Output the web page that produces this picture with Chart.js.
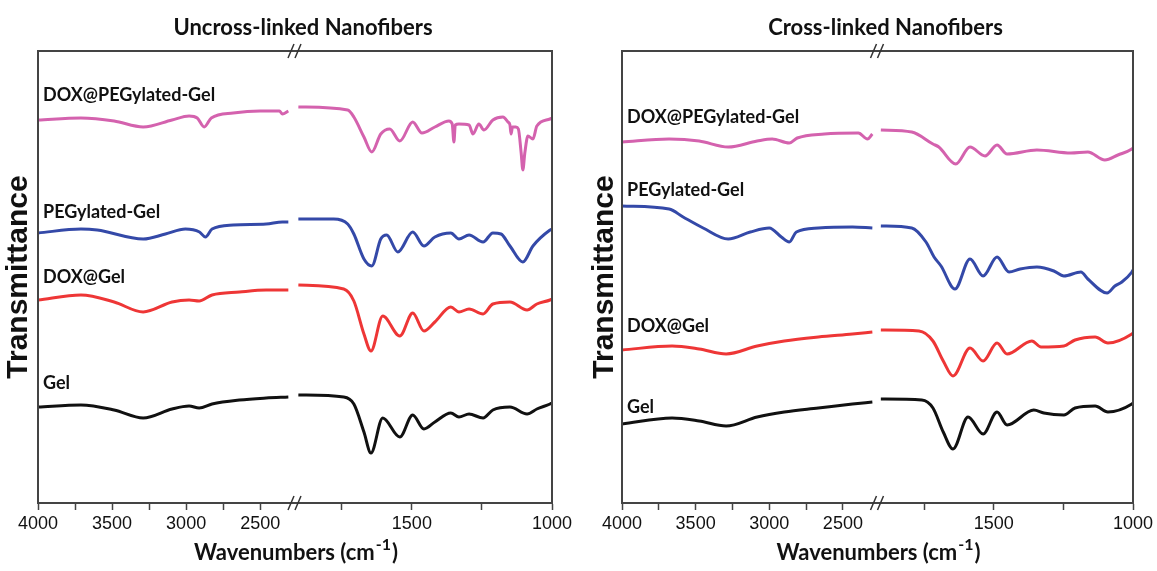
<!DOCTYPE html>
<html>
<head>
<meta charset="utf-8">
<script src="https://cdn.jsdelivr.net/npm/chart.js@4/dist/chart.umd.min.js"></script>
<style>
  html, body { margin: 0; padding: 0; background: #fff; }
  .panel { position: absolute; top: 0; height: 571px; }
  #left { left: 0; width: 580px; }
  #right { left: 584px; width: 573px; }
</style>
</head>
<body>
<div class="panel" id="left"><canvas id="uncross"></canvas></div>
<div class="panel" id="right"><canvas id="cross"></canvas></div>
<script>
// broken wavenumber axis: high part 4000-2265, low part 1917-1000
const TICKS_HIGH = [2500, 2750, 3000, 3250, 3500, 3750, 4000];
const TICKS_LOW = [1000, 1250, 1500, 1750];
const LABELED_TICKS = [1000, 1500, 2500, 3000, 3500, 4000];

const SERIES_NAMES = ['Gel', 'DOX@Gel', 'PEGylated-Gel', 'DOX@PEGylated-Gel'];
const SERIES_COLORS = ['#111111', '#ee3636', '#3449a8', '#d462ae'];
const PANEL_TITLES = ['Uncross-linked Nanofibers', 'Cross-linked Nanofibers'];

// [wavenumber, transmittance (a.u., offset per sample)]
const uncrossGelHigh = [[4000,96],[3710,98],[3486,93],[3290,85],[3095,94],[2980,97],[2912,95],[2825,99],[2640,103],[2460,105],[2310,106]];
const uncrossGelLow = [[1905,108],[1743,106],[1707,99],[1671,71],[1646,50],[1604,85],[1543,66],[1497,88],[1457,74],[1418,81],[1361,90],[1332,86],[1296,89],[1246,85],[1211,93],[1150,96],[1089,89],[1054,94],[1007,99],[1000,100]];
const uncrossDoxGelHigh = [[4000,203],[3710,208],[3486,201],[3290,191],[3095,201],[2980,203],[2912,202],[2825,208],[2640,211],[2460,213],[2310,213]];
const uncrossDoxGelLow = [[1905,218],[1743,214],[1707,202],[1671,169],[1646,152],[1604,187],[1543,167],[1497,190],[1457,172],[1418,181],[1361,196],[1332,191],[1296,194],[1246,189],[1211,199],[1150,201],[1089,193],[1054,199],[1007,203],[1000,204]];
const uncrossPegGelHigh = [[4000,270],[3710,274],[3600,273],[3290,264],[3140,269],[3005,274],[2910,271],[2870,266],[2825,274],[2682,278],[2460,279],[2350,281],[2310,281]];
const uncrossPegGelLow = [[1905,284],[1779,284],[1729,279],[1707,269],[1671,244],[1643,237],[1611,264],[1590,268],[1550,251],[1497,271],[1457,257],[1418,266],[1361,270],[1332,264],[1296,268],[1246,261],[1211,270],[1182,269],[1150,257],[1104,241],[1068,257],[1007,273],[1000,274]];
const uncrossDoxPegGelHigh = [[4000,383],[3710,385],[3486,382],[3290,376],[3095,383],[2980,387],[2925,385],[2878,376],[2830,385],[2682,390],[2500,392],[2370,392],[2350,389],[2310,392]];
const uncrossDoxPegGelLow = [[1905,396],[1729,393],[1707,386],[1671,366],[1643,351],[1611,369],[1579,374],[1543,362],[1497,381],[1464,370],[1418,376],[1368,382],[1356,379],[1350,361],[1345,378],[1332,379],[1296,378],[1282,369],[1261,379],[1243,373],[1211,383],[1175,386],[1157,381],[1150,378],[1146,369],[1141,376],[1129,376],[1120,374],[1110,350],[1104,333],[1097,350],[1086,367],[1068,364],[1054,377],[1007,384],[1000,385]];

const crossGelHigh = [[4000,79],[3660,85],[3476,82],[3293,77],[3082,86],[2898,91],[2667,95],[2435,99],[2300,101]];
const crossGelLow = [[1905,104],[1758,103],[1718,95],[1681,71],[1646,54],[1592,86],[1538,69],[1488,91],[1452,78],[1356,93],[1320,90],[1248,88],[1208,95],[1136,97],[1090,91],[1004,99],[1000,100]];
const crossDoxGelHigh = [[4000,153],[3660,157],[3476,154],[3293,149],[3082,157],[2898,162],[2667,166],[2435,169],[2300,171]];
const crossDoxGelLow = [[1905,173],[1768,172],[1718,162],[1681,142],[1646,127],[1585,155],[1538,142],[1488,160],[1452,149],[1363,162],[1330,156],[1248,157],[1208,163],[1136,166],[1090,160],[1004,169],[1000,170]];
const crossPegGelHigh = [[4000,297],[3680,294],[3585,286],[3449,275],[3279,264],[3129,271],[3000,275],[2918,266],[2864,261],[2816,271],[2667,275],[2435,276],[2300,275]];
const crossPegGelLow = [[1905,277],[1794,275],[1743,261],[1714,246],[1689,237],[1639,214],[1585,244],[1538,227],[1488,246],[1445,231],[1405,234],[1345,236],[1284,232],[1248,227],[1187,231],[1162,224],[1093,210],[1065,217],[1040,221],[1004,231],[1000,233]];
const crossDoxPegGelHigh = [[4000,361],[3680,364],[3476,362],[3279,356],[3082,362],[2980,364],[2864,360],[2810,365],[2626,369],[2395,370],[2333,364],[2300,369]];
const crossDoxPegGelLow = [[1905,373],[1794,371],[1718,359],[1697,356],[1636,339],[1585,356],[1531,347],[1488,358],[1452,349],[1345,353],[1223,350],[1162,351],[1101,343],[1054,348],[1004,354],[1000,355]];

// where the sample names sit, in transmittance units (left edge of plot)
const uncrossLabelT = [120, 226, 291, 408];
const crossLabelT = [96, 177, 313, 386];

const framePlugin = {
  id: 'frame',
  afterDraw(chart, args, opts) {
    const { ctx, chartArea: a, scales } = chart;
    ctx.save();
    ctx.strokeStyle = '#444';
    ctx.lineWidth = 2;
    ctx.strokeRect(a.left, a.top, a.width, a.height);

    // axis break marks
    const bx = scales.xHigh.right;
    ctx.lineWidth = 1.5;
    ctx.strokeStyle = '#333';
    [a.top, a.bottom].forEach(y => {
      ctx.beginPath();
      ctx.moveTo(bx - 7, y + 7); ctx.lineTo(bx - 1, y - 7);
      ctx.moveTo(bx, y + 7); ctx.lineTo(bx + 6, y - 7);
      ctx.stroke();
    });

    // sample names
    ctx.fillStyle = '#111';
    ctx.font = 'bold 18px Lato';
    ctx.textBaseline = 'middle';
    ctx.textAlign = 'left';
    SERIES_NAMES.forEach((name, i) => {
      ctx.fillText(name, a.left + 5, scales.y.getPixelForValue(opts.labelT[i]));
    });

    // panel title
    const cx = (a.left + a.right) / 2;
    ctx.textAlign = 'center';
    ctx.font = 'bold 22px Lato';
    ctx.fillText(opts.title, cx + 8, 28);

    // x axis title with superscript
    const main = 'Wavenumbers (cm', sup = '-1', tail = ')';
    ctx.font = 'bold 22px Lato';
    const wMain = ctx.measureText(main).width, wTail = ctx.measureText(tail).width;
    ctx.font = 'bold 16px Lato';
    const wSup = ctx.measureText(sup).width;
    let x = cx - (wMain + wSup + wTail) / 2;
    ctx.textAlign = 'left';
    ctx.textBaseline = 'alphabetic';
    ctx.font = 'bold 22px Lato';
    ctx.fillText(main, x, 560);
    ctx.font = 'bold 16px Lato';
    ctx.fillText(sup, x + wMain + 1, 550);
    ctx.font = 'bold 22px Lato';
    ctx.fillText(tail, x + wMain + wSup + 2, 560);
    ctx.restore();
  }
};

function xAxis(min, max, ticks) {
  return {
    type: 'linear',
    position: 'bottom',
    stack: 'wn',
    stackWeight: 1,
    reverse: true,
    min: min,
    max: max,
    afterBuildTicks: s => { s.ticks = ticks.map(v => ({ value: v })); },
    afterFit: s => { s.height = 68; },
    border: { display: true, color: '#444', width: 2 },
    grid: { display: true, drawOnChartArea: false, drawTicks: true, tickLength: 7, tickWidth: 1.5, tickColor: '#444' },
    ticks: {
      autoSkip: false, maxRotation: 0, padding: 3, color: '#111',
      font: { family: 'Liberation Sans', size: 18 },
      callback: v => LABELED_TICKS.includes(v) ? String(v) : ''
    }
  };
}

function makePanel(id, title, high, low, labelT, padRight, titlePad) {
  const datasets = [];
  SERIES_NAMES.forEach((name, i) => {
    const base = { label: name, borderColor: SERIES_COLORS[i], borderWidth: 3, pointRadius: 0, cubicInterpolationMode: 'monotone', fill: false };
    datasets.push(Object.assign({}, base, { xAxisID: 'xHigh', data: high[i].map(p => ({ x: p[0], y: p[1] })) }));
    datasets.push(Object.assign({}, base, { xAxisID: 'xLow', data: low[i].map(p => ({ x: p[0], y: p[1] })) }));
  });

  return new Chart(document.getElementById(id), {
    type: 'line',
    data: { datasets },
    options: {
      responsive: true,
      maintainAspectRatio: false,
      animation: false,
      layout: { padding: { top: 51, right: padRight, bottom: 0, left: 0 } },
      plugins: {
        legend: { display: false },
        tooltip: { enabled: false },
        frame: { title: title, labelT: labelT }
      },
      scales: {
        xHigh: xAxis(2265, 4000, TICKS_HIGH),
        xLow: xAxis(1000, 1917, TICKS_LOW),
        y: {
          min: 0, max: 452,
          afterFit: s => { s.width = 38; },
          border: { display: true, color: '#444', width: 2 },
          grid: { display: false },
          ticks: { display: false },
          title: {
            display: true, text: 'Transmittance', color: '#111',
            font: { family: 'Liberation Sans', size: 30, weight: 'bold' },
            padding: { top: titlePad, bottom: 0 }
          }
        }
      }
    },
    plugins: [framePlugin]
  });
}

makePanel('uncross', PANEL_TITLES[0],
  [uncrossGelHigh, uncrossDoxGelHigh, uncrossPegGelHigh, uncrossDoxPegGelHigh],
  [uncrossGelLow, uncrossDoxGelLow, uncrossPegGelLow, uncrossDoxPegGelLow],
  uncrossLabelT, 28, 1);

makePanel('cross', PANEL_TITLES[1],
  [crossGelHigh, crossDoxGelHigh, crossPegGelHigh, crossDoxPegGelHigh],
  [crossGelLow, crossDoxGelLow, crossPegGelLow, crossDoxPegGelLow],
  crossLabelT, 24, 3);
</script>
</body>
</html>
